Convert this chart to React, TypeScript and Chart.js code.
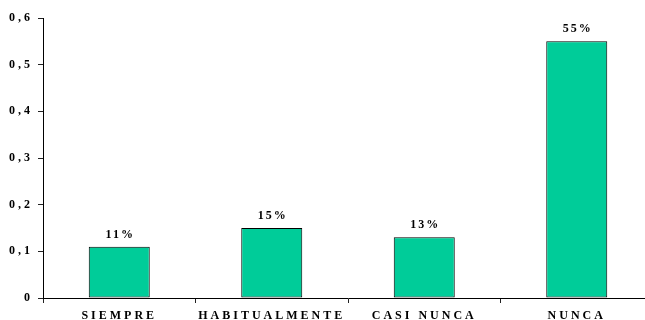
import React, { useEffect, useRef } from "react";
import { Chart, registerables } from "chart.js";

Chart.register(...registerables);

const categories = ["SIEMPRE", "HABITUALMENTE", "CASI NUNCA", "NUNCA"];
const values = [0.11, 0.15, 0.13, 0.55];
const valueLabels = ["11%", "15%", "13%", "55%"];
const yTicks = [0, 0.1, 0.2, 0.3, 0.4, 0.5, 0.6];

const FONT_FAMILY = "'Liberation Serif', 'Times New Roman', serif";

const spacingPlugin = {
  id: "spacing",
  beforeUpdate(chart: any) {
    chart.ctx.letterSpacing = "3px";
  },
  beforeDraw(chart: any) {
    chart.ctx.letterSpacing = "3px";
  },
};

const valueLabelPlugin = {
  id: "valueLabels",
  afterDatasetsDraw(chart: any) {
    const ctx = chart.ctx;
    const meta = chart.getDatasetMeta(0);
    ctx.save();
    ctx.letterSpacing = "2px";
    ctx.font = `bold 12px ${FONT_FAMILY}`;
    ctx.fillStyle = "#000";
    ctx.textAlign = "center";
    ctx.textBaseline = "middle";
    meta.data.forEach((bar: any, i: number) => {
      ctx.fillText(valueLabels[i], bar.x + 1, bar.y - 12);
    });
    ctx.restore();
  },
};

export default function App() {
  const ref = useRef<HTMLCanvasElement | null>(null);
  useEffect(() => {
    if (!ref.current) return;
    const chart = new Chart(ref.current, {
      type: "bar",
      data: {
        labels: categories,
        datasets: [
          {
            data: values,
            backgroundColor: "#00CC99",
            borderColor: "#000",
            borderWidth: 1,
            borderSkipped: false,
            categoryPercentage: 1,
            barPercentage: 0.4,
          },
        ],
      },
      options: {
        animation: false,
        responsive: false,
        layout: { padding: { top: 18, right: 7, left: 0, bottom: 0 } },
        plugins: { legend: { display: false }, tooltip: { enabled: false } },
        scales: {
          x: {
            grid: {
              display: true,
              drawOnChartArea: false,
              offset: true,
              tickLength: 5,
              color: "#222",
            },
            border: { display: true, color: "#000", width: 1 },
            ticks: {
              padding: 6,
              color: "#000",
              font: { family: FONT_FAMILY, size: 12, weight: "bold" },
              maxRotation: 0,
              autoSkip: false,
            },
            afterFit(scale: any) {
              scale.height = 22;
            },
          },
          y: {
            min: 0,
            max: 0.6,
            afterBuildTicks(scale: any) {
              scale.ticks = yTicks.map((v) => ({ value: v }));
            },
            grid: {
              display: true,
              drawOnChartArea: false,
              tickLength: 5,
              color: "#222",
            },
            border: { display: true, color: "#000", width: 1 },
            ticks: {
              padding: 5,
              color: "#000",
              font: { family: FONT_FAMILY, size: 12, weight: "bold" },
              callback: (v: any) =>
                Number(v) === 0 ? "0" : Number(v).toFixed(1).replace(".", ","),
            },
            afterFit(scale: any) {
              scale.width = 43;
            },
          },
        },
      },
      plugins: [spacingPlugin, valueLabelPlugin],
    });
    return () => chart.destroy();
  }, []);
  return (
    <div
      style={{
        position: "fixed",
        left: 0,
        top: 0,
        width: 660,
        height: 320,
        background: "#fff",
      }}
    >
      <canvas ref={ref} width={660} height={320} />
    </div>
  );
}
